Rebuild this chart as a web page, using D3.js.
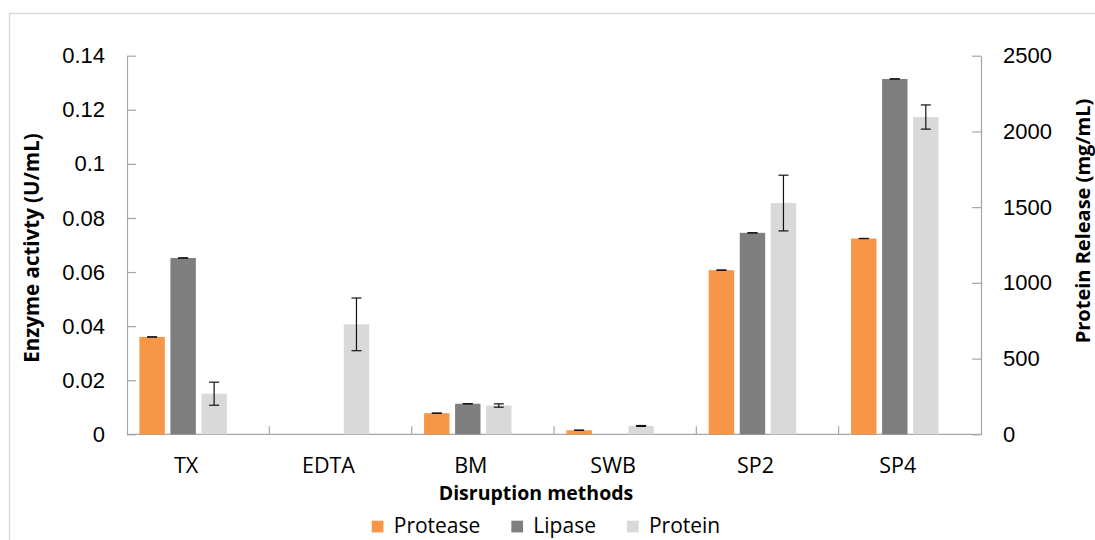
<!DOCTYPE html>
<html>
<head>
<meta charset="utf-8">
<script src="https://cdn.jsdelivr.net/npm/d3@7"></script>
<style>
  html, body { margin: 0; padding: 0; background: #fff; }
  svg { display: block; font-family: "Open Sans", "Liberation Sans", sans-serif; }
  .axis path, .axis line { stroke: #a6a6a6; stroke-width: 1.2; }
  .axis text { fill: #000; font-size: 22px; }
  .axis text.cat { font-size: 21.5px; }
</style>
</head>
<body>
<svg id="chart" width="1095" height="540"></svg>
<script>
// Disruption methods (x categories)
const categories = ["TX", "EDTA", "BM", "SWB", "SP2", "SP4"];
const seriesNames = ["Protease", "Lipase", "Protein"];

// Enzyme activity, U/mL (left axis)
const protease    = [0.036, 0, 0.0078, 0.0015, 0.0607, 0.0724];
const proteaseErr = [0, 0, 0, 0, 0, 0];
const lipase      = [0.0652, 0, 0.0113, 0, 0.0745, 0.1314];
const lipaseErr   = [0, 0, 0, 0, 0, 0];

// Protein release, mg/mL (right axis)
const protein     = [268, 726, 190, 55, 1527, 2095];
const proteinErr  = [76, 174, 11, 3, 184, 80];

// Axis ticks
const leftTicks  = [0, 0.02, 0.04, 0.06, 0.08, 0.1, 0.12, 0.14];
const rightTicks = [0, 500, 1000, 1500, 2000, 2500];

const colors = { Protease: "#f79646", Lipase: "#7f7f7f", Protein: "#d9d9d9" };

const svg = d3.select("#chart");
const plot = { left: 127, right: 981, top: 55.7, bottom: 434.3 };

// Outer frame of the chart area
svg.append("rect")
  .attr("x", 9.5).attr("y", 13.5).attr("width", 1200).attr("height", 600)
  .attr("fill", "none").attr("stroke", "#d9d9d9").attr("stroke-width", 1.5);

const x0 = d3.scaleBand().domain(categories).range([plot.left, plot.right]).padding(0);
const x1 = d3.scaleBand().domain(seriesNames).range([0, x0.bandwidth()])
  .paddingInner(0.18).paddingOuter(0.885).align(0.226);
const yL = d3.scaleLinear().domain([0, 0.14]).range([plot.bottom, plot.top]);
const yR = d3.scaleLinear().domain([0, 2500]).range([plot.bottom, plot.top]);

// Left axis (ticks point into the plot)
svg.append("g").attr("class", "axis")
  .attr("transform", `translate(${plot.left},0)`)
  .call(d3.axisLeft(yL).tickValues(leftTicks).tickFormat(d => String(d))
    .tickSize(-9).tickSizeOuter(0).tickPadding(22));

// Right axis
svg.append("g").attr("class", "axis")
  .attr("transform", `translate(${plot.right},0)`)
  .call(d3.axisRight(yR).tickValues(rightTicks).tickFormat(d => String(d))
    .tickSize(-9).tickSizeOuter(0).tickPadding(22));

// Category axis: baseline plus boundary ticks
const xAxis = svg.append("g").attr("class", "axis");
xAxis.append("line")
  .attr("x1", plot.left).attr("x2", plot.right)
  .attr("y1", plot.bottom).attr("y2", plot.bottom);
xAxis.selectAll("line.tick").data(categories.slice(1)).join("line")
  .attr("class", "tick")
  .attr("x1", d => x0(d)).attr("x2", d => x0(d))
  .attr("y1", plot.bottom).attr("y2", plot.bottom - 8);

// Group center (the bars leave an empty slot on the right of each category)
const groupCenter = c => x0(c) + (x1(seriesNames[0]) + x1(seriesNames[2]) + x1.bandwidth()) / 2 + 3;

xAxis.selectAll("text.cat").data(categories).join("text")
  .attr("class", "cat")
  .attr("x", d => groupCenter(d))
  .attr("y", 472.5)
  .attr("text-anchor", "middle")
  .text(d => d);

// Bars
const series = [
  { name: "Protease", values: protease, err: proteaseErr, y: yL },
  { name: "Lipase",   values: lipase,   err: lipaseErr,   y: yL },
  { name: "Protein",  values: protein,  err: proteinErr,  y: yR }
];

series.forEach(s => {
  const rows = categories.map((c, i) => ({ c, v: s.values[i], e: s.err[i] }));
  const g = svg.append("g");
  g.selectAll("rect").data(rows).join("rect")
    .attr("x", d => x0(d.c) + x1(s.name))
    .attr("width", x1.bandwidth())
    .attr("y", d => s.y(d.v))
    .attr("height", d => s.y(0) - s.y(d.v))
    .attr("fill", colors[s.name]);

  // Error bars
  const eb = g.selectAll("g.err").data(rows.filter(d => d.v > 0)).join("g").attr("class", "err")
    .attr("transform", d => `translate(${x0(d.c) + x1(s.name) + x1.bandwidth() / 2},0)`)
    .attr("stroke", "#111").attr("stroke-width", 1.2);
  eb.append("line").attr("x1", 0).attr("x2", 0)
    .attr("y1", d => s.y(d.v + d.e)).attr("y2", d => s.y(d.v - d.e));
  eb.append("line").attr("x1", -5).attr("x2", 5)
    .attr("y1", d => s.y(d.v + d.e)).attr("y2", d => s.y(d.v + d.e));
  eb.append("line").attr("x1", -5).attr("x2", 5)
    .attr("y1", d => s.y(d.v - d.e)).attr("y2", d => s.y(d.v - d.e));
});

// Axis titles
svg.append("text")
  .attr("transform", `translate(39,248) rotate(-90)`)
  .attr("text-anchor", "middle")
  .attr("font-size", 20.5).attr("font-weight", "bold").attr("fill", "#000")
  .text("Enzyme activty (U/mL)");

svg.append("text")
  .attr("transform", `translate(1090,221) rotate(-90)`)
  .attr("text-anchor", "middle")
  .attr("font-size", 20).attr("font-weight", "bold").attr("fill", "#000")
  .text("Protein Release (mg/mL)");

svg.append("text")
  .attr("x", 536).attr("y", 500)
  .attr("text-anchor", "middle")
  .attr("font-size", 19.5).attr("font-weight", "bold").attr("fill", "#000")
  .text("Disruption methods");

// Legend
const legend = svg.append("g");
let lx = 0;
seriesNames.forEach(name => {
  const item = legend.append("g").attr("transform", `translate(${lx},0)`);
  item.append("rect").attr("x", 0).attr("y", 520.7).attr("width", 11.7).attr("height", 11.7)
    .attr("fill", colors[name]);
  const t = item.append("text").attr("x", 22).attr("y", 533)
    .attr("font-size", 21).attr("fill", "#000").text(name);
  lx += 22 + t.node().getComputedTextLength() + 31;
});
const legendWidth = lx - 31;
legend.attr("transform", `translate(${546 - legendWidth / 2},0)`);
</script>
</body>
</html>
